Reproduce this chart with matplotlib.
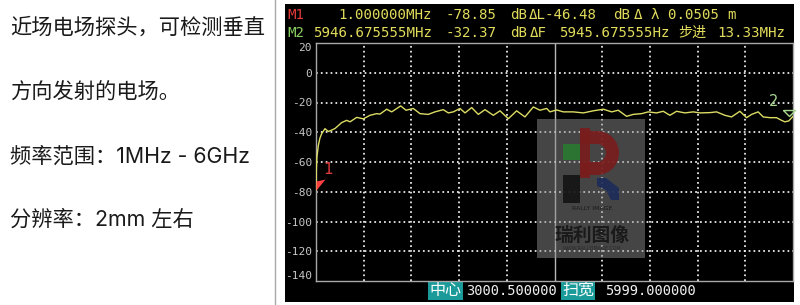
import matplotlib
matplotlib.use("Agg")
import matplotlib.pyplot as plt
from matplotlib.patches import Rectangle, Polygon, Wedge
import numpy as np

# ---------------- data ----------------
freq_mhz = [1, 5, 12, 30, 50, 72, 114, 156, 200, 240, 324, 387, 429, 513, 596, 680,
            764, 806, 890, 953, 1066, 1133, 1224, 1309, 1413, 1497, 1602, 1665, 1728,
            1812, 1875, 1959, 2042, 2126, 2231, 2315, 2420, 2524, 2629, 2734, 2818,
            2902, 2943, 3027, 3111, 3237, 3362, 3488, 3614, 3719, 3802, 3907, 3991,
            4096, 4180, 4284, 4368, 4452, 4536, 4640, 4745, 4829, 4955, 5039, 5143,
            5227, 5332, 5416, 5479, 5562, 5625, 5709, 5793, 5856, 5898, 5947, 6000]
level_db = [-78.85, -66, -57, -49, -44, -41, -37.6, -39.5, -38.5, -37.5, -33.5, -32,
            -33, -30, -31, -28.6, -27.5, -27.8, -24.5, -26.3, -22.3, -25.2, -24,
            -27.5, -28, -26.3, -24.8, -27, -26.3, -24, -27, -23.4, -28, -24.8, -28.6,
            -25.6, -30.9, -25.6, -29.7, -23, -25.2, -24, -26.3, -25, -26.3, -26.3,
            -27, -25.6, -24.5, -26.3, -25.2, -29.3, -28, -27.5, -26.3, -27, -25.9,
            -28.6, -25.9, -27, -26.3, -27, -26.8, -26.3, -28.6, -29.7, -25.9, -30.2,
            -28, -26.3, -29.7, -30.2, -30.2, -32, -33, -32.37, -29.3]

f_start, f_stop = 1.0, 6000.0
y_ticks = [-140, -120, -100, -80, -60, -40, -20, 0, 20]
y_tick_labels = ["-140", "-120", "-100", "-80", "-60", "-40", "-20", "0", "20"]

marker1 = (1.0, -78.85)
marker2 = (5946.675555, -32.37)

desc_lines = ["近场电场探头，可检测垂直", "方向发射的电场。",
              "频率范围：1MHz - 6GHz", "分辨率：2mm 左右"]

# ---------------- figure ----------------
W, H = 800, 305
fig = plt.figure(figsize=(W / 100, H / 100), dpi=100)
fig.patch.set_facecolor("white")

bg = fig.add_axes([0, 0, 1, 1])
bg.set_xlim(0, W)
bg.set_ylim(H, 0)
bg.axis("off")
bg.set_zorder(0)

# separator & black screen
bg.plot([275, 275], [0, H], color="#a8a8a8", lw=1)
bg.add_patch(Rectangle((285, 4), 509, 298, facecolor="black", edgecolor="none"))

cjk = ["Noto Sans CJK SC", "DejaVu Sans"]
desc_font = ["Inter", "Noto Sans CJK SC", "DejaVu Sans"]
for yy, line in zip([27, 93, 157, 220], desc_lines):
    bg.text(10, yy, line, fontsize=15.3, family=desc_font, color="#1a1a1a",
            va="center", ha="left")

mono = ["DejaVu Sans Mono", "Noto Sans CJK SC"]
yel = "#e2dc5c"
hdr = [
    (287, 15, "M1", "#e03a3a"), (338, 15, "1.000000MHz", yel),
    (445, 15, "-78.85", yel), (510, 15, "dB", yel), (529, 15, "ΔL-46.48", yel),
    (613, 15, "dB", yel), (634, 15, "Δ λ 0.0505", yel), (727, 15, "m", yel),
    (287, 33, "M2", "#8ad060"), (313, 33, "5946.675555MHz", yel),
    (445, 33, "-32.37", yel), (510, 33, "dB", yel), (530, 33, "ΔF", yel),
    (559, 33, "5945.675555Hz", yel), (678, 33, "步进", yel),
    (717, 33, "13.33MHz", yel),
]
for x, y, s, c in hdr:
    bg.text(x, y, s, fontsize=10.2, family=mono, color=c, va="center", ha="left")

# bottom bar
teal = "#1b9a9a"
bg.add_patch(Rectangle((428, 282), 35, 18, facecolor=teal, edgecolor="none"))
bg.add_patch(Rectangle((561, 282), 34, 18, facecolor=teal, edgecolor="none"))
bg.text(445.5, 291, "中心", fontsize=11.5, family=cjk, color="white", ha="center", va="center")
bg.text(578, 291, "扫宽", fontsize=11.5, family=cjk, color="white", ha="center", va="center")
bg.text(466, 291, "3000.500000", fontsize=9.9, family=mono, color="#f0f0f0", ha="left", va="center")
bg.text(605, 291, "5999.000000", fontsize=9.9, family=mono, color="#f0f0f0", ha="left", va="center")

# ---------------- data axes ----------------
L, R, T, B = 316, 793, 43, 281
ax = fig.add_axes([L / W, (H - B) / H, (R - L) / W, (B - T) / H])
ax.set_zorder(1)
ax.set_facecolor("black")
ax.set_xlim(f_start, f_stop)
ax.set_ylim(-140, 20)

div = (f_stop - f_start) / 10
dot = (0, (1.0, 1.8))
for k in range(1, 10):
    xv = f_start + k * div
    if k == 5:
        ax.axvline(xv, color="#b8b8b8", lw=1.0, zorder=1)
    else:
        ax.axvline(xv, color="#f4f4f4", lw=1.25, ls=dot, zorder=1)
for yv in y_ticks[1:-1]:
    ax.axhline(yv, color="#f4f4f4", lw=1.25, ls=dot, zorder=1)

for s in ax.spines.values():
    s.set_color("#a8a8a8")
    s.set_linewidth(1.0)

ax.set_xticks([])
ax.set_yticks(y_ticks)
ax.set_yticklabels(y_tick_labels)
ax.tick_params(axis="y", length=0, pad=3, labelsize=8, labelcolor="#c8c8c8",
               labelfontfamily="DejaVu Sans Mono")
labs = ax.get_yticklabels()
labs[0].set_va("bottom")
labs[-1].set_va("top")

ax.plot(freq_mhz, level_db, color="#dcdc64", lw=1.0, zorder=3)

# markers
m1_shape = [(0, 0), (0, 9), (9, 11), (0, 0)]
ax.plot([marker1[0]], [marker1[1]], marker=m1_shape, markersize=15.8,
        color="#ff4040", markeredgewidth=0, linestyle="none", zorder=4, clip_on=False)
ax.annotate("1", xy=marker1, xytext=(9, 15), textcoords="offset points",
            color="#e03a3a", fontsize=11, ha="center", va="center", zorder=4)

m2_shape = [(-6, 11), (6, 11), (0, 5), (-6, 11)]
ax.plot([marker2[0]], [marker2[1]], marker=m2_shape, markersize=15.8,
        markerfacecolor="none", markeredgecolor="#a8d890", markeredgewidth=1.0,
        linestyle="none", zorder=4, clip_on=False)
ax.annotate("2", xy=marker2, xytext=(-11, 14), textcoords="offset points",
            color="#a8d890", fontsize=10.5, ha="center", va="center", zorder=4)

# ---------------- watermark overlay ----------------
fg = fig.add_axes([0, 0, 1, 1])
fg.set_xlim(0, W)
fg.set_ylim(H, 0)
fg.axis("off")
fg.patch.set_visible(False)
fg.set_zorder(2)

fg.add_patch(Rectangle((537, 119), 108, 139, facecolor="#8a8a8a", alpha=0.5, edgecolor="none"))
# logo pieces
red = "#7a1c1c"
fg.add_patch(Wedge((597, 153), 22, -90, 90, width=13, facecolor=red, alpha=0.9, edgecolor="none"))
fg.add_patch(Rectangle((580, 131), 17, 13, facecolor=red, alpha=0.9, edgecolor="none"))
fg.add_patch(Rectangle((580, 162), 17, 13, facecolor=red, alpha=0.9, edgecolor="none"))
fg.add_patch(Rectangle((580, 128), 10, 50, facecolor=red, alpha=0.9, edgecolor="none"))
fg.add_patch(Rectangle((563, 144), 17, 16, facecolor="#2a7a30", alpha=0.9, edgecolor="none"))
fg.add_patch(Rectangle((563, 175), 17, 28, facecolor="#141414", alpha=0.9, edgecolor="none"))
fg.add_patch(Polygon([(597, 178), (606, 178), (619, 188), (619, 200), (611, 200),
                      (606, 190), (597, 186)], closed=True, facecolor="#1c2c5a",
                     alpha=0.9, edgecolor="none"))
fg.text(592, 208, "RALLY IMAGE", fontsize=4.5, color="#1a1a1a", ha="center", va="center")
fg.text(592, 235, "瑞利图像", fontsize=13.5, family=cjk, color="#1a1a1a", ha="center",
        va="center", fontweight="bold")
fg.text(592, 248, "WWW.RALLYIMAGE.COM", fontsize=3.5, color="#2a2a2a", ha="center", va="center")

fig.savefig("out.png", dpi=100, facecolor="white")
